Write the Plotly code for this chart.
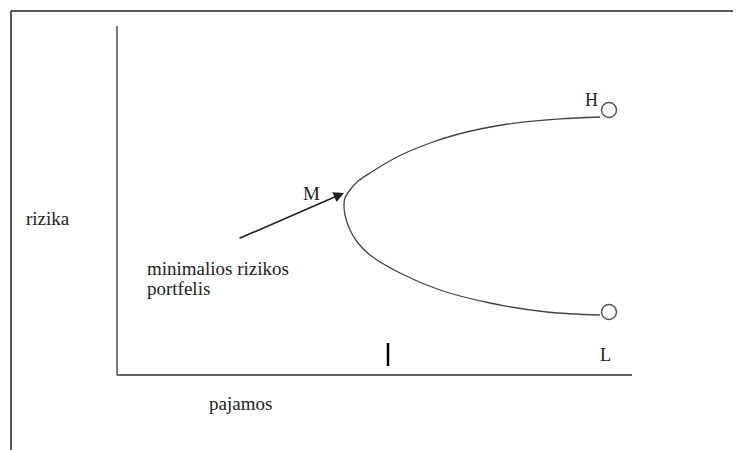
import plotly.graph_objects as go

# Conceptual frontier curve (x = pajamos, y = rizika), abstract units
curve_x = [483, 443, 413, 388, 363, 338, 313, 280, 253, 240, 233, 228, 227, 228, 233, 241, 253, 283, 323, 373, 430, 483]
curve_y = [258, 256.2, 253.7, 250.5, 246, 240, 232, 218, 202, 193, 185, 177, 170, 160, 145, 132, 120, 102, 85, 72, 63, 60]

# End points H and L
end_labels = ["H", "L"]
end_x = [492, 492]
end_y = [265, 63]

# Minimum-risk point M
m_x = 227
m_y = 182

axis_x_max = 515
axis_y_max = 349
tick_x = 271

FONT = "Liberation Serif"
OFF = 8  # page body margin offset
fig = go.Figure()

fig.add_trace(go.Scatter(x=curve_x, y=curve_y, mode="lines",
                         line=dict(color="#444444", width=1.3, shape="spline", smoothing=1.0),
                         hoverinfo="skip", showlegend=False))
fig.add_trace(go.Scatter(x=end_x, y=end_y, mode="markers",
                         marker=dict(size=15, color="white", line=dict(color="#555555", width=1.5)),
                         hoverinfo="skip", showlegend=False))

# axes
fig.add_shape(type="line", x0=0, y0=0, x1=0, y1=axis_y_max, line=dict(color="#333333", width=1.3))
fig.add_shape(type="line", x0=0, y0=0, x1=axis_x_max, y1=0, line=dict(color="#333333", width=1.3))
# small tick mark
fig.add_shape(type="line", x0=tick_x, y0=9, x1=tick_x, y1=32, line=dict(color="black", width=2.5))

# outer frame (top and left)
fx = (11 - OFF) / 741
fy = 1 - (11 - OFF) / 450
fig.add_shape(type="line", xref="paper", yref="paper", x0=fx, y0=fy, x1=1, y1=fy,
              line=dict(color="#222222", width=1.5))
fig.add_shape(type="line", xref="paper", yref="paper", x0=fx, y0=fy, x1=fx, y1=0,
              line=dict(color="#222222", width=1.5))

# arrow to M
fig.add_annotation(x=m_x, y=m_y, ax=121, ay=136, xref="x", yref="y", axref="x", ayref="y",
                   text="", showarrow=True, arrowhead=2, arrowsize=1.3, arrowwidth=1.6,
                   arrowcolor="#222222")

def label(text, x, y, xanchor="center", size=19, family=FONT):
    fig.add_annotation(x=x, y=y, xref="x", yref="y", text=text, showarrow=False,
                       xanchor=xanchor, yanchor="middle",
                       font=dict(family=family, size=size, color="#222222"))

label("M", 194, 182)
label("H", 474, 275, size=18)
label("L", 488, 20, size=18)
label("rizika", -93, 157, xanchor="left")
label("minimalios rizikos", 28, 107, xanchor="left")
label("portfelis", 28, 87, xanchor="left")
label("pajamos", 90, -28, xanchor="left")

fig.update_layout(
    width=741, height=450,
    margin=dict(l=0, r=0, t=0, b=0),
    paper_bgcolor="white", plot_bgcolor="white",
    xaxis=dict(range=[-117 + OFF, 624 + OFF], visible=False, fixedrange=True),
    yaxis=dict(range=[-75 - OFF, 375 - OFF], visible=False, fixedrange=True),
    showlegend=False,
)

fig.write_html("out.html")
